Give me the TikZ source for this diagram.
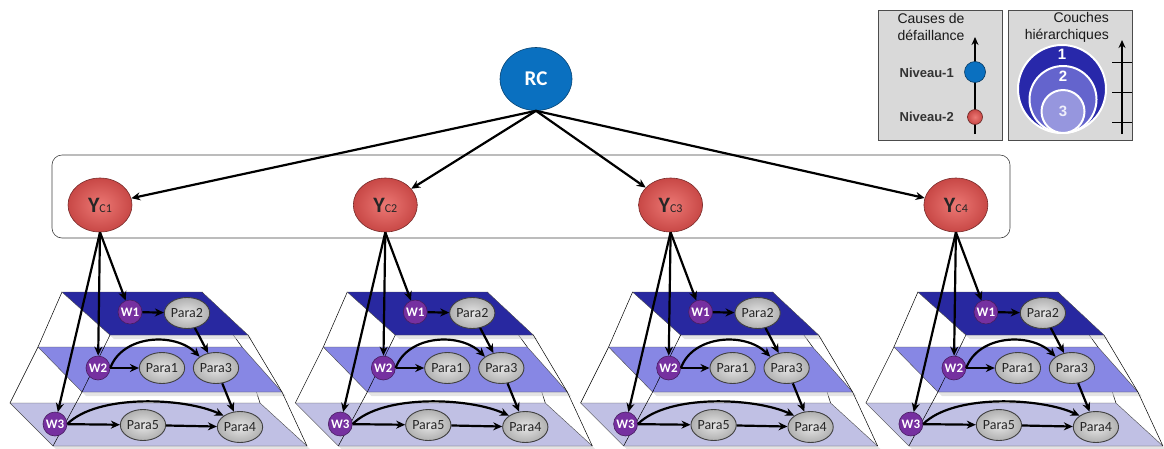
\documentclass[tikz,border=0pt]{standalone}
\usepackage{fontspec}
\setmainfont{Carlito}
\newfontfamily\legfont{Liberation Sans}
\usetikzlibrary{arrows.meta,shapes.geometric}
\definecolor{layA}{RGB}{40,40,160}
\definecolor{layB}{RGB}{135,135,228}
\definecolor{layC}{RGB}{192,192,228}
\definecolor{wpurp}{RGB}{118,48,160}
\definecolor{rcblue}{RGB}{10,112,192}
\definecolor{ycred}{RGB}{200,72,70}
\definecolor{ycredl}{RGB}{236,120,116}
\definecolor{legfill}{RGB}{217,217,217}
\definecolor{cirA}{RGB}{40,40,170}
\definecolor{cirB}{RGB}{100,100,205}
\definecolor{cirC}{RGB}{150,150,222}
\begin{document}
\begin{tikzpicture}[x=1pt,y=-1pt,
  arr/.style={line width=2.2pt,-{Stealth[length=9pt,width=8pt]}},
  frame/.style={line width=0.5pt,black},
  layer/.style={draw=black!70,line width=0.4pt},
  wnode/.style={circle,minimum size=24pt,inner sep=0pt,fill=wpurp,draw=wpurp!60!black,line width=0.6pt,text=white,font=\bfseries\fontsize{13}{13}\selectfont},
  pnode/.style={ellipse,minimum width=44pt,minimum height=31pt,inner sep=0pt,inner color=gray!20,outer color=gray!62,draw=black!75,line width=0.9pt,font=\fontsize{14}{14}\selectfont,text=black!85},
  ycnode/.style={ellipse,minimum width=64pt,minimum height=54pt,inner sep=0pt,inner color=ycredl,outer color=ycred,draw=ycred!60!black,line width=0.6pt,text=black!85},
  rcnode/.style={ellipse,minimum width=72pt,minimum height=63pt,inner sep=0pt,fill=rcblue,draw=rcblue!60!black,line width=0.6pt,text=white,font=\bfseries\fontsize{21}{21}\selectfont},
  legbox/.style={draw=black!70,fill=legfill,line width=1pt,minimum width=124pt,minimum height=130pt,inner sep=0pt},
  legtext/.style={font=\legfont\fontsize{14}{17}\selectfont,text=black!90,inner sep=0pt},
  legbold/.style={font=\legfont\bfseries\fontsize{13}{13}\selectfont,text=black!80,inner sep=0pt},
  legarr/.style={line width=2pt,-{Stealth[length=8pt,width=7pt]}},
  cirnum/.style={font=\legfont\bfseries\fontsize{15}{15}\selectfont,text=white,inner sep=0pt}]
\useasboundingbox (0,0) rectangle (1164,448);

% band around the level-2 causes
\node[draw=black!75,line width=0.6pt,rounded corners=10pt,minimum width=958pt,minimum height=83pt,inner sep=0pt] (band) at (531,196.5) {};

% root
\node[rcnode] (rc) at (536,79) {RC};

\foreach \g in {0,1,2,3}{
  \pgfmathtruncatemacro{\n}{\g+1}
  \begin{scope}[xshift=\g*285.3]
    % back edges of the frustum
    \draw[frame] (62,292)--(38,347)--(10,403);
    \draw[frame] (202,292)--(242,347)--(260,403);
    % layers
    \fill[gray!35,opacity=0.6] (14,407)--(264,407)--(311,450)--(57,450)--cycle;
    \filldraw[layer,fill=layC] (10,403)--(260,403)--(307,446)--(53,446)--cycle;
    \fill[gray!35,opacity=0.6] (42,351)--(246,351)--(286,396)--(86,396)--cycle;
    \filldraw[layer,fill=layB] (38,347)--(242,347)--(282,392)--(82,392)--cycle;
    \fill[gray!35,opacity=0.6] (66,296)--(206,296)--(252,339)--(114,339)--cycle;
    \filldraw[layer,fill=layA] (62,292)--(202,292)--(248,335)--(110,335)--cycle;
    % front edges of the frustum
    \draw[frame] (110,335)--(82,392)--(53,446);
    \draw[frame] (248,335)--(282,392)--(307,446);
    % nodes
    \node[ycnode] (yc\g) at (100,205) {{\bfseries\fontsize{22}{22}\selectfont Y}{\fontsize{12}{12}\selectfont C\n}};
    \node[wnode] (wa\g) at (130,312) {W1};
    \node[pnode] (pb\g) at (187,313) {Para2};
    \node[wnode] (wb\g) at (98,368) {W2};
    \node[pnode] (pa\g) at (162,368) {Para1};
    \node[pnode] (pc\g) at (216,368) {Para3};
    \node[wnode] (wc\g) at (55,424) {W3};
    \node[pnode] (pe\g) at (143,425) {Para5};
    \node[pnode] (pd\g) at (240,427) {Para4};
  \end{scope}
  % connectors
  \draw[arr] (yc\g.south) -- (wa\g);
  \draw[arr] (yc\g.south) -- (wb\g);
  \draw[arr] (yc\g.south) -- (wc\g);
  \draw[arr] (wa\g) -- (pb\g);
  \draw[arr] (pb\g) -- (pc\g);
  \draw[arr] (wb\g) -- (pa\g);
  \draw[arr] (wb\g.east) to[out=70,in=135] (pc\g.north west);
  \draw[arr] (pc\g) -- (pd\g);
  \draw[arr] (wc\g) -- (pe\g);
  \draw[arr] (pe\g) -- (pd\g);
  \draw[arr] (wc\g.east) to[out=45,in=155,looseness=0.7] (pd\g.north west);
  \draw[arr] (rc.south) -- (yc\g);
}

% legend 1
\node[legbox] (leg1) at (940,75) {};
\node[legtext,align=center] (cdd) at (931,27) {Causes de\\défaillance};
\coordinate (ax1b) at (975,134);
\coordinate (ax1t) at (975,37);
\draw[legarr] (ax1b) -- (ax1t);
\node[circle,fill=rcblue,draw=rcblue!50!black,line width=0.6pt,minimum size=21pt,inner sep=0pt] (lv1) at (975,72) {};
\node[circle,inner color=ycredl,outer color=ycred,draw=ycred!50!black,line width=0.6pt,minimum size=15pt,inner sep=0pt] (lv2) at (975,117) {};
\node[legbold,anchor=east] (tn1) at (954,73) {Niveau-1};
\node[legbold,anchor=east] (tn2) at (954,117) {Niveau-2};

% legend 2
\node[legbox] (leg2) at (1070,75) {};
\node[legtext,align=right,anchor=east] (chh) at (1109,27) {Couches\\hiérarchiques};
\node[circle,fill=cirA,draw=white,line width=2pt,minimum size=88pt,inner sep=0pt] (ca) at (1062,89) {};
\node[circle,fill=cirB,draw=white,line width=2pt,minimum size=67pt,inner sep=0pt] (cb) at (1063,99.5) {};
\node[circle,fill=cirC,draw=white,line width=2pt,minimum size=43pt,inner sep=0pt] (cc) at (1063,111.5) {};
\node[cirnum] (na) at (1062,54) {1};
\node[cirnum] (nb) at (1063,76) {2};
\node[cirnum,text=white!85!cirC] (nc) at (1063,111) {3};
\coordinate (ax2b) at (1122,134);
\coordinate (ax2t) at (1122,40);
\draw[legarr] (ax2b) -- (ax2t);
\foreach \t [count=\k] in {62,92,122}{
  \coordinate (tkl\k) at (1112,\t);
  \coordinate (tkr\k) at (1132,\t);
  \draw[line width=1pt] (tkl\k) -- (tkr\k);
}
\end{tikzpicture}
\end{document}
